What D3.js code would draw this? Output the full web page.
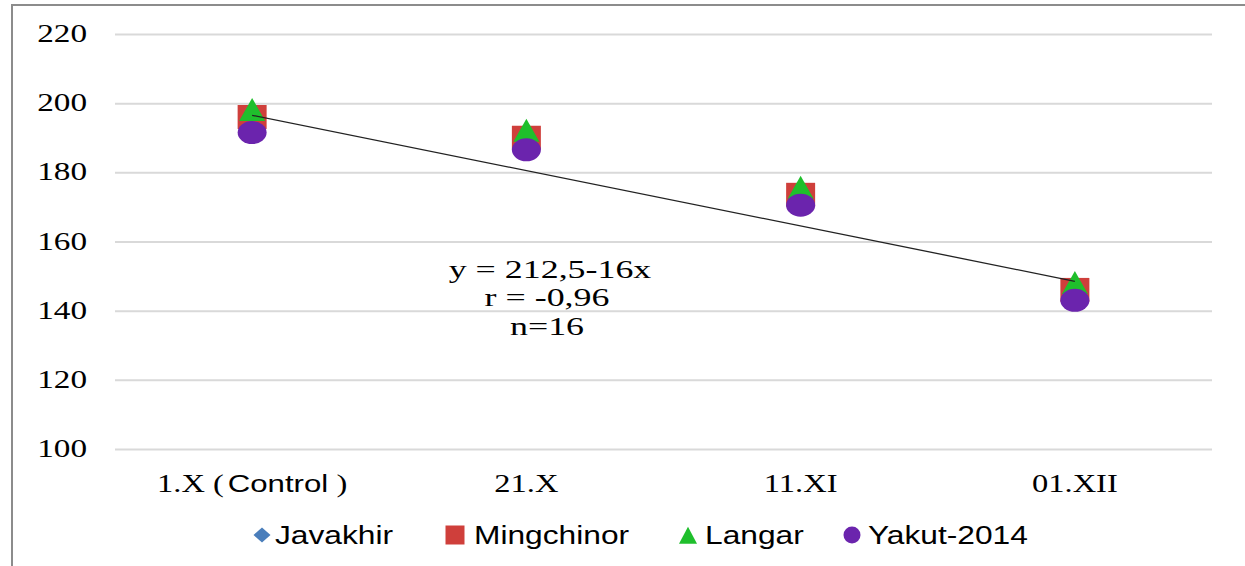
<!DOCTYPE html>
<html><head><meta charset="utf-8">
<script src="https://cdn.jsdelivr.net/npm/d3@7"></script>
<style>body{margin:0;background:#fff;overflow:hidden}</style>
</head><body>
<svg id="c" width="1245" height="566"></svg>
<script>
const categories = ["1.X (Control)", "21.X", "11.XI", "01.XII"];
const javakhir   = [194, 188.5, 172.5, 145];
const mingchinor = [196, 190, 173.5, 146];
const langar     = [197.5, 191.5, 175, 147.5];
const yakut      = [191.5, 186.5, 170.5, 143];
const yTicks     = [100, 120, 140, 160, 180, 200, 220];
const trendCats  = ["1.X (Control)", "01.XII"];
const trendVals  = [196.5, 148.5];
const annotation = ["y = 212,5-16x", "r = -0,96", "n=16"];
const seriesNames = ["Javakhir", "Mingchinor", "Langar", "Yakut-2014"];

const svg = d3.select("#c");
const SX = 1.33;
const serif = "'Liberation Serif','Times New Roman',serif";
const sans = "'Liberation Sans',Arial,sans-serif";

svg.append("rect").attr("x",0).attr("y",0).attr("width",1245).attr("height",566).attr("fill","#fff");
svg.append("path").attr("d","M12,566 L12,5 L1245,5").attr("fill","none").attr("stroke","#8c8c8c").attr("stroke-width",2);

const x = d3.scaleBand().domain(categories).range([115,1212]).padding(0);
const y = d3.scaleLinear().domain([100,220]).range([449,34]);
const cx = c => x(c) + x.bandwidth()/2;

const yAxis = d3.axisLeft(y).tickValues(yTicks).tickSize(-(1212-115)).tickFormat("");
const ga = svg.append("g").attr("transform","translate(115,0)").call(yAxis);
ga.select(".domain").remove();
ga.selectAll(".tick line").attr("stroke","#d9d9d9").attr("stroke-width",2);

svg.selectAll(".ylab").data(yTicks).enter().append("text")
  .attr("transform", d => `translate(87,${y(d)+8}) scale(${SX},1)`)
  .attr("text-anchor","end").attr("font-family",serif).attr("font-size",25).attr("fill","#000")
  .text(d => d);

categories.forEach(c => {
  const t = svg.append("text")
    .attr("transform", `translate(${cx(c)},${492}) scale(1.3,1)`)
    .attr("text-anchor","middle").attr("font-family",serif).attr("font-size",25).attr("fill","#000");
  const m = c.match(/^(.*)\((.*)\)$/);
  if (m) {
    t.append("tspan").text(m[1].trim() + " (");
    t.append("tspan").attr("font-family",sans).attr("font-size",24).attr("dx",3).text(m[2]);
    t.append("tspan").text(" )");
  } else t.text(c);
});

function shape(kind, w, h) {
  if (kind === "diamond") return `M0,${-h/2} L${w/2},0 L0,${h/2} L${-w/2},0 Z`;
  if (kind === "square") return `M${-w/2},${-h/2} h${w} v${h} h${-w} Z`;
  if (kind === "triangle") return `M0,${-h*0.6} L${w/2},${h*0.4} L${-w/2},${h*0.4} Z`;
  return `M${-w/2},0 A${w/2},${h/2} 0 1,0 ${w/2},0 A${w/2},${h/2} 0 1,0 ${-w/2},0 Z`;
}
const series = [
  {name: seriesNames[0], vals: javakhir,   color:"#4a7ebb", kind:"diamond",  w:24, h:20},
  {name: seriesNames[1], vals: mingchinor, color:"#cf3f3b", kind:"square",   w:29, h:24},
  {name: seriesNames[2], vals: langar,     color:"#1fbf2c", kind:"triangle", w:26, h:23},
  {name: seriesNames[3], vals: yakut,      color:"#6b24ad", kind:"circle",   w:29, h:23}
];
series.forEach(s => {
  svg.append("g").selectAll("path").data(s.vals).enter().append("path")
    .attr("d", shape(s.kind, s.w, s.h))
    .attr("transform", (d,i) => `translate(${cx(categories[i])},${y(d)})`)
    .attr("fill", s.color);
});

svg.append("line")
  .attr("x1", cx(trendCats[0])).attr("y1", y(trendVals[0]))
  .attr("x2", cx(trendCats[1])).attr("y2", y(trendVals[1]))
  .attr("stroke","#222").attr("stroke-width",1.3);

const annX = [550, 547, 547], annY = [278, 306, 335];
annotation.forEach((t,i) => {
  svg.append("text").attr("transform", `translate(${annX[i]},${annY[i]}) scale(1.38,1)`)
    .attr("text-anchor","middle").attr("font-family",serif).attr("font-size",26).attr("fill","#000").text(t);
});

const legX = [262, 455, 688, 852];
const legGap = [13, 19, 17, 16];
const legShape = [{w:17,h:15},{w:19,h:19},{w:18,h:17},{w:17,h:17}];
series.forEach((s,i) => {
  svg.append("path").attr("d", shape(s.kind, legShape[i].w, legShape[i].h))
    .attr("transform", `translate(${legX[i]},${s.kind==="triangle"?537:535})`).attr("fill", s.color);
  svg.append("text").attr("transform", `translate(${legX[i]+legGap[i]},${544}) scale(1.22,1)`)
    .attr("font-family",sans).attr("font-size",26).attr("fill","#000").text(s.name);
});
</script>
</body></html>
